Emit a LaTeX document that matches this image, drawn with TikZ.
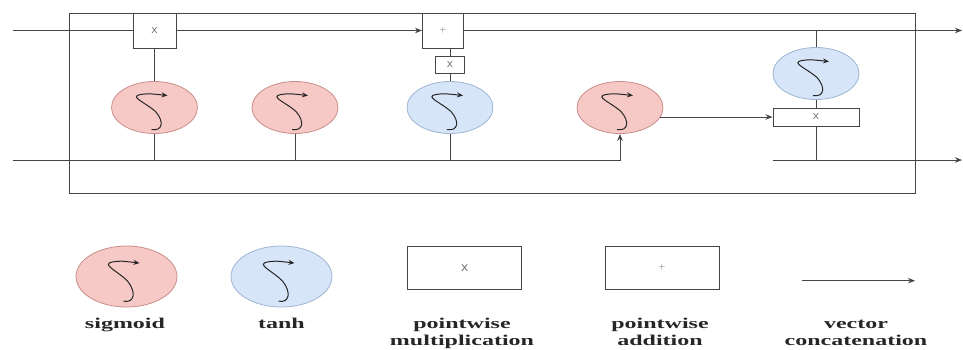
\documentclass[tikz,border=0pt]{standalone}
\usepackage{fontspec}
\setmainfont{Liberation Serif}
\usepackage{graphicx}
\usetikzlibrary{arrows.meta,shapes.geometric,calc}
\definecolor{ln}{HTML}{454545}
\definecolor{sigf}{HTML}{F6C9C6}
\definecolor{sigd}{HTML}{C98E8A}
\definecolor{tanf}{HTML}{D6E5F8}
\definecolor{tand}{HTML}{9FB5D3}
\tikzset{
  wire/.style={draw=ln, line width=1pt},
  arr/.style={wire, -{Stealth[length=7pt,width=5.5pt]}},
  sig/.style={ellipse, draw=sigd, fill=sigf, line width=0.8pt, inner sep=0pt, minimum width=86pt, minimum height=52pt},
  tanhs/.style={ellipse, draw=tand, fill=tanf, line width=0.8pt, inner sep=0pt, minimum width=86pt, minimum height=52pt},
  lsig/.style={sig, minimum width=101pt, minimum height=61pt},
  ltanh/.style={tanhs, minimum width=101pt, minimum height=61pt},
  opbox/.style={rectangle, draw=ln, fill=white, line width=1pt, inner sep=0pt, font=\sffamily\fontsize{13}{13}\selectfont, text=black!60},
  lbl/.style={font=\fontsize{15}{17}\selectfont\bfseries, anchor=base, text=black!85, inner sep=0pt},
}
\newcommand{\scurve}[2]{%
  \begin{scope}[shift={(#1)}, yscale=#2]
  \draw[line width=1pt, black!85, -{Stealth[length=6pt,width=5pt]}]
    (-3,22) .. controls (8,24) and (10,14) .. (1,4)
    .. controls (-9,-5) and (-26,-11) .. (-14,-13)
    .. controls (-6,-14) .. (13,-12);
  \end{scope}}
\newcommand{\wlbl}[1]{\scalebox{1.6}[1]{\begin{tabular}[t]{@{}c@{}}#1\end{tabular}}}
\begin{document}
\begin{tikzpicture}[x=1pt,y=-1pt]
\useasboundingbox (0,0) rectangle (963,349);
% outer box
\draw[wire] (69,13) rectangle (915,193);
% nodes
\node[opbox, minimum width=43pt, minimum height=35pt] (mulA) at (154.5,30.5) {x};
\node[opbox, minimum width=41pt, minimum height=35pt] (addA) at (443,30.5) {\small +};
\node[opbox, minimum width=29pt, minimum height=17pt] (mulB) at (450,64.5) {x};
\node[sig] (sig1) at (154.5,107.5) {};
\node[sig] (sig2) at (295,107.5) {};
\node[tanhs] (tan1) at (450,107.5) {};
\node[sig] (sig3) at (620,107.5) {};
\node[tanhs] (tan2) at (816,73.5) {};
\node[opbox, minimum width=86pt, minimum height=18pt] (mulC) at (816,117) {x};
\scurve{sig1}{1}\scurve{sig2}{1}\scurve{tan1}{1}\scurve{sig3}{1}\scurve{tan2}{1}
% free ends
\coordinate (inTop) at (13,30.5);
\coordinate (outTop) at (962,30.5);
\coordinate (inBot) at (13,160);
\coordinate (outBotS) at (773,160);
\coordinate (outBot) at (962,160);
\coordinate (b1) at (154.5,160);
\coordinate (b2) at (295,160);
\coordinate (b3) at (450,160);
\coordinate (b4) at (620,160);
\coordinate (b5) at (816,160);
\coordinate (t5) at (816,30.5);
\coordinate (tA) at (450,48);
\coordinate (s3r) at (660,117);
% connectors
\draw[wire] (inTop) -- (mulA.west);
\draw[arr] (mulA.east) -- (addA.west);
\draw[arr] (addA.east) -- (outTop);
\draw[wire] (mulA.south) -- (sig1.north);
\draw[wire] (sig1.south) -- (b1);
\draw[wire] (sig2.south) -- (b2);
\draw[wire] (tan1.south) -- (b3);
\draw[wire] (tan1.north) -- (mulB.south);
\draw[wire] (mulB.north) -- (tA);
\draw[arr] (inBot) -- (b4) -- (sig3.south);
\draw[arr] (s3r) -- (mulC.west);
\draw[wire] (tan2.north) -- (t5);
\draw[wire] (tan2.south) -- (mulC.north);
\draw[wire] (mulC.south) -- (b5);
\draw[arr] (outBotS) -- (outBot);
% legend
\node[lsig] (lsig) at (126.5,276.5) {};
\node[ltanh] (ltan) at (281.5,276.5) {};
\scurve{lsig}{1.12}\scurve{ltan}{1.12}
\node[opbox, font=\sffamily\fontsize{15}{15}\selectfont, minimum width=114pt, minimum height=43pt] (lmul) at (464.7,267.7) {x};
\node[opbox, minimum width=114pt, minimum height=43pt] (ladd) at (662,267.7) {\small +};
\coordinate (la1) at (802,280.7);
\coordinate (la2) at (915,280.7);
\draw[arr] (la1) -- (la2);
\node[lbl] (t1) at (125,328) {\wlbl{sigmoid}};
\node[lbl] (t2) at (281.5,328) {\wlbl{tanh}};
\node[lbl] (t3) at (462,328) {\wlbl{pointwise\\multiplication}};
\node[lbl] (t4) at (660,328) {\wlbl{pointwise\\addition}};
\node[lbl] (t5l) at (856,328) {\wlbl{vector\\concatenation}};
\end{tikzpicture}
\end{document}
